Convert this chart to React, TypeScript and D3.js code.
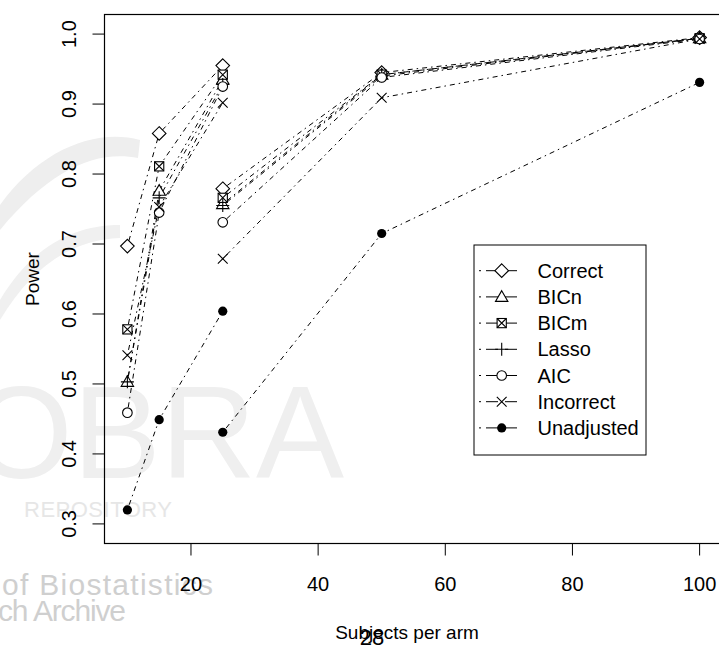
import React from "react";
import * as d3 from "d3";

// ---- data ----
const sizesA = [10, 15, 25];
const sizesB = [25, 50, 100];

const seriesNames = ["Correct", "BICn", "BICm", "Lasso", "AIC", "Incorrect", "Unadjusted"];
const seriesSymbols = ["diamond", "triangle", "boxx", "plus", "circle", "cross", "dot"];

const correctA = [0.697, 0.858, 0.955];
const bicnA = [0.503, 0.776, 0.935];
const bicmA = [0.578, 0.811, 0.942];
const lassoA = [0.503, 0.766, 0.928];
const aicA = [0.459, 0.745, 0.925];
const incorrectA = [0.541, 0.753, 0.902];
const unadjustedA = [0.32, 0.449, 0.604];

const correctB = [0.779, 0.945, 0.995];
const bicnB = [0.757, 0.942, 0.994];
const bicmB = [0.766, 0.942, 0.994];
const lassoB = [0.755, 0.94, 0.994];
const aicB = [0.731, 0.938, 0.993];
const incorrectB = [0.679, 0.909, 0.993];
const unadjustedB = [0.431, 0.715, 0.931];

const valuesA = [correctA, bicnA, bicmA, lassoA, aicA, incorrectA, unadjustedA];
const valuesB = [correctB, bicnB, bicmB, lassoB, aicB, incorrectB, unadjustedB];

const xTicks = [20, 40, 60, 80, 100];
const yTicks = [0.3, 0.4, 0.5, 0.6, 0.7, 0.8, 0.9, 1.0];

const FONT = "'Liberation Sans', Arial, Helvetica, sans-serif";
const DASH = "1.5,4,5,4";

function Symbol({ kind, cx, cy }: { kind: string; cx: number; cy: number }) {
  const s = { stroke: "#000", strokeWidth: 1.1, fill: "none" } as any;
  switch (kind) {
    case "diamond": {
      const r = 6.8;
      return <path d={`M${cx},${cy - r}L${cx + r},${cy}L${cx},${cy + r}L${cx - r},${cy}Z`} {...s} fill="#fff" />;
    }
    case "triangle": {
      const r = 6.2;
      return <path d={`M${cx},${cy - r}L${cx + r},${cy + r * 0.72}L${cx - r},${cy + r * 0.72}Z`} {...s} fill="#fff" />;
    }
    case "boxx": {
      const r = 4.6;
      return (
        <g>
          <rect x={cx - r} y={cy - r} width={2 * r} height={2 * r} {...s} fill="#fff" />
          <path d={`M${cx - r},${cy - r}L${cx + r},${cy + r}M${cx - r},${cy + r}L${cx + r},${cy - r}`} {...s} />
        </g>
      );
    }
    case "plus": {
      const r = 6.5;
      return <path d={`M${cx - r},${cy}L${cx + r},${cy}M${cx},${cy - r}L${cx},${cy + r}`} {...s} />;
    }
    case "circle":
      return <circle cx={cx} cy={cy} r={4.8} {...s} fill="#fff" />;
    case "cross": {
      const r = 4.9;
      return <path d={`M${cx - r},${cy - r}L${cx + r},${cy + r}M${cx - r},${cy + r}L${cx + r},${cy - r}`} {...s} />;
    }
    case "dot":
      return <circle cx={cx} cy={cy} r={4.6} fill="#000" />;
  }
  return null;
}

export default function App() {
  const W = 719;
  const H = 648;
  const left = 104.5, right = 722.5, top = 14.5, bottom = 543.5;
  const x = d3.scaleLinear().domain([6.4, 103.6]).range([left, right]);
  const y = d3.scaleLinear().domain([0.272, 1.028]).range([bottom, top]);
  const line = d3
    .line<[number, number]>()
    .x((d) => x(d[0]))
    .y((d) => y(d[1]));

  const legendRows = seriesNames.map((n, i) => ({ n, k: seriesSymbols[i], cy: 270.7 + i * 26.2 }));

  return (
    <svg
      width={W}
      height={H}
      style={{ position: "absolute", left: 0, top: 0, background: "#fff" }}
      fontFamily={FONT}
    >
      {/* watermark */}
      <g>
        <path d="M0,205 C40,150 95,128 140,140 L138,158 C95,150 50,170 0,230 Z" fill="#eeeeee" />
        <path d="M0,300 C30,250 70,225 120,225 L120,238 C75,240 35,262 0,320 Z" fill="#f0f0f0" />
        <text x={-30} y={478} fontSize={132} fill="#efefef" fontFamily={FONT}>
          OBRA
        </text>
        <text x={24} y={517} fontSize={22} fill="#e6e6e6" textLength={148} fontFamily={FONT}>
          REPOSITORY
        </text>
        <text x={2} y={595} fontSize={30} fill="#cfcfcf" textLength={211} fontFamily={FONT}>
          of Biostatistics
        </text>
        <text x={-2} y={621} fontSize={30} fill="#cfcfcf" textLength={128} fontFamily={FONT}>
          ch Archive
        </text>
      </g>

      {/* lines */}
      {valuesA.map((vals, i) => (
        <path
          key={"la" + i}
          d={line(sizesA.map((s, j) => [s, vals[j]] as [number, number])) || ""}
          fill="none"
          stroke="#000"
          strokeWidth={1}
          strokeDasharray={DASH}
        />
      ))}
      {valuesB.map((vals, i) => (
        <path
          key={"lb" + i}
          d={line(sizesB.map((s, j) => [s, vals[j]] as [number, number])) || ""}
          fill="none"
          stroke="#000"
          strokeWidth={1}
          strokeDasharray={DASH}
        />
      ))}

      {/* points */}
      {valuesA.map((vals, i) =>
        vals.map((v, j) => <Symbol key={`pa${i}-${j}`} kind={seriesSymbols[i]} cx={x(sizesA[j])} cy={y(v)} />)
      )}
      {valuesB.map((vals, i) =>
        vals.map((v, j) => <Symbol key={`pb${i}-${j}`} kind={seriesSymbols[i]} cx={x(sizesB[j])} cy={y(v)} />)
      )}

      {/* frame */}
      <rect x={left} y={top} width={right - left} height={bottom - top} fill="none" stroke="#000" strokeWidth={1.2} />

      {/* x axis */}
      {xTicks.map((t) => (
        <g key={"xt" + t}>
          <line x1={x(t)} x2={x(t)} y1={bottom} y2={bottom + 12} stroke="#000" />
          <text x={x(t)} y={591} fontSize={20} textAnchor="middle">
            {t}
          </text>
        </g>
      ))}
      {/* y axis */}
      {yTicks.map((t) => (
        <g key={"yt" + t}>
          <line x1={left - 12} x2={left} y1={y(t)} y2={y(t)} stroke="#000" />
          <text transform={`translate(76,${y(t)}) rotate(-90)`} fontSize={20} textAnchor="middle">
            {t.toFixed(1)}
          </text>
        </g>
      ))}

      <text x={407} y={639} fontSize={19} textAnchor="middle">
        Subjects per arm
      </text>
      <text x={372} y={645} fontSize={22} textAnchor="middle">
        28
      </text>
      <text transform={`translate(39,${(top + bottom) / 2}) rotate(-90)`} fontSize={19} textAnchor="middle">
        Power
      </text>

      {/* legend */}
      <rect x={474} y={245} width={172} height={210} fill="#fff" stroke="#000" strokeWidth={1} />
      {legendRows.map((r) => (
        <g key={"lg" + r.n}>
          <line x1={479} x2={518} y1={r.cy} y2={r.cy} stroke="#000" strokeDasharray="2,5,12,7,12" />
          <Symbol kind={r.k} cx={501.7} cy={r.cy} />
          <text x={537.5} y={r.cy + 7} fontSize={20}>
            {r.n}
          </text>
        </g>
      ))}
    </svg>
  );
}
